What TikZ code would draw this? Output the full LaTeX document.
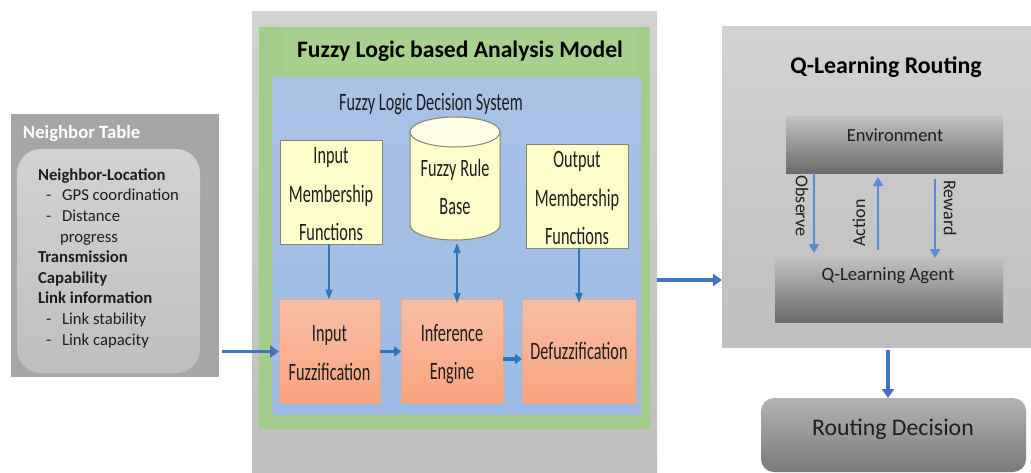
\documentclass[tikz,border=0pt]{standalone}
\usepackage{fontspec}
\setmainfont{Carlito}
\newfontfamily\condfont[FakeStretch=0.65]{Carlito}
\usetikzlibrary{arrows.meta}
\definecolor{arrowA}{HTML}{2E75B6}
\definecolor{arrowB}{HTML}{4472C4}
\definecolor{arrowC}{HTML}{5B8BD6}
\definecolor{inkdark}{HTML}{1E1E1E}
\definecolor{tablegray}{HTML}{A6A6A6}
\definecolor{midtop}{HTML}{D2D2D2}
\definecolor{midbot}{HTML}{BFBFBF}
\definecolor{greenpanel}{HTML}{A3CD8B}
\definecolor{greentitle}{HTML}{A9D18E}
\definecolor{bluetop}{HTML}{A9C3E6}
\definecolor{bluebot}{HTML}{9CBBE4}
\definecolor{yellowfill}{HTML}{FFFFCC}
\definecolor{yellowtop}{HTML}{FFFFE6}
\definecolor{orangetop}{HTML}{F7BFA6}
\definecolor{orangebot}{HTML}{F9A47E}
\definecolor{edgeolive}{HTML}{85856A}
\definecolor{edgeorange}{HTML}{EDA98A}
\newcommand{\fs}[1]{\fontsize{#1}{#1}\selectfont}
\tikzset{
  panel/.style={inner sep=0pt,outer sep=0pt,rectangle},
  yellowbox/.style={panel,fill=yellowfill,draw=edgeolive,line width=.8pt,text=inkdark,align=center,
    font={\condfont\fontsize{25}{38.5}\selectfont},minimum width=102pt,minimum height=104pt},
  orangebox/.style={panel,top color=orangetop,bottom color=orangebot,draw=edgeorange,line width=.6pt,
    text=inkdark,align=center,font={\condfont\fontsize{25}{38.5}\selectfont},minimum height=104pt},
  bigarrow/.style={-{Triangle[length=9pt,width=12pt]},line width=3.2pt,draw=arrowB},
  midarrow/.style={-{Triangle[length=7pt,width=10pt]},line width=3.4pt,draw=arrowA},
  thinarrow/.style={-{Triangle[length=10pt,width=7pt]},line width=1.8pt,draw=arrowA},
  bothtips/.style={{Triangle[length=10pt,width=7pt]}-{Triangle[length=10pt,width=7pt]},line width=1.8pt,draw=arrowA},
  looparrow/.style={-{Triangle[length=9pt,width=10pt]},line width=2pt,draw=arrowC},
  graybar/.style={panel,top color=black!24,bottom color=black!58},
  vlabel/.style={panel,text=inkdark,font=\fs{18}},
}
\begin{document}
\begin{tikzpicture}[x=1pt,y=-1pt]
\useasboundingbox (0,0) rectangle (1031,472);
% Neighbor table
\node[panel,fill=tablegray,minimum width=208pt,minimum height=263pt] (nbr) at (115,245.5) {};
\node[panel,rounded corners=24pt,top color=midtop,bottom color=midbot,minimum width=183pt,minimum height=224pt] (nbrin) at (108.5,261) {};
\node[panel,anchor=west,text=white,font=\fs{18.7}\bfseries] (nbrt) at (23,133.5) {Neighbor Table};
\node[panel,anchor=north west,align=left,text=inkdark,font={\fontsize{16.7}{20.6}\selectfont}] (nbrl) at (38,168.5) {%
\textbf{Neighbor-Location}\\
\hspace*{8pt}-\hspace{11pt}GPS coordination\\
\hspace*{8pt}-\hspace{11pt}Distance\\
\hspace*{22pt}progress\\
\textbf{Transmission}\\
\textbf{Capability}\\
\textbf{Link information}\\
\hspace*{8pt}-\hspace{11pt}Link stability\\
\hspace*{8pt}-\hspace{11pt}Link capacity};
% Centre
\node[panel,top color=midtop,bottom color=midbot,minimum width=405pt,minimum height=461pt] (mid) at (454.5,241.5) {};
\node[panel,fill=greenpanel,minimum width=391pt,minimum height=402pt] (grn) at (454.5,228) {};
\node[panel,fill=greentitle,minimum width=354pt,minimum height=40pt,text=black,font=\fs{23.6}\bfseries] (ttl) at (460,51) {\raisebox{-2.5pt}{Fuzzy Logic based Analysis Model}};
\node[panel,top color=bluetop,bottom color=bluebot,minimum width=369pt,minimum height=337pt] (blu) at (456.5,245.5) {};
\node[panel,text=inkdark,font={\condfont\fontsize{25}{25}\selectfont}] (fds) at (431,104) {Fuzzy Logic Decision System};
\node[yellowbox] (imf) at (331,192) {\rule{0pt}{21pt}Input\\Membership\\Functions};
\node[yellowbox] (omf) at (577,196) {\rule{0pt}{21pt}Output\\Membership\\Functions};
% Cylinder
\node[panel,minimum width=90pt,minimum height=123pt] (frb) at (455,178.5) {};
\draw[fill=yellowfill,draw=edgeolive,line width=1pt] (410,132) -- (410,225) arc[start angle=180,end angle=360,x radius=45pt,y radius=15pt] -- (500,132) -- cycle;
\draw[fill=yellowtop,draw=edgeolive,line width=1pt] (455,132) ellipse[x radius=45pt,y radius=15pt];
\node[panel,align=center,text=inkdark,font={\condfont\fontsize{25}{38.5}\selectfont}] (frbt) at (455,187) {Fuzzy Rule\\Base};
\node[orangebox,minimum width=101pt] (fuz) at (329.5,351.5) {\rule{0pt}{19pt}Input\\Fuzzification};
\node[orangebox,minimum width=102pt] (inf) at (452,351) {\rule{0pt}{23pt}Inference\\Engine};
\node[orangebox,minimum width=114pt] (def) at (579,351) {Defuzzification};
% Right panel
\node[panel,top color=midtop,bottom color=midbot,minimum width=309pt,minimum height=321pt] (qlr) at (876.5,186.5) {};
\node[panel,text=black,font=\fs{23.9}\bfseries] (qlt) at (886,67.5) {Q-Learning Routing};
\node[graybar,minimum width=217pt,minimum height=57pt] (env) at (894.5,144.5) {};
\node[panel,text=inkdark,font=\fs{18.5}] (envt) at (895,135) {Environment};
\node[graybar,minimum width=228pt,minimum height=65pt] (agt) at (889,289.5) {};
\node[panel,text=inkdark,font=\fs{18.7}] (agtt) at (888,276) {Q-Learning Agent};
\node[panel,rounded corners=13pt,top color=black!30,bottom color=black!52,minimum width=265pt,minimum height=74pt] (rte) at (893.5,435) {};
\node[panel,text=inkdark,font=\fs{23.8}] (rtet) at (893,429) {Routing Decision};
% Rotated labels
\node[vlabel,rotate=-90] (obs) at (802,206) {Observe};
\node[vlabel,rotate=90] (act) at (859,223) {Action};
\node[vlabel,rotate=-90] (rwd) at (950,208) {Reward};
% Connectors
\draw[bigarrow] (nbr.east |- fuz.west) ++(3,0) -- (fuz.west);
\draw[thinarrow] ([xshift=-2pt]imf.south) -- ([xshift=-2pt]imf.south |- fuz.north);
\draw[bothtips] ([xshift=2pt,yshift=-3pt]frb.south) -- ([xshift=2pt,yshift=-4pt]frb.south |- inf.north);
\draw[thinarrow] (def.north |- omf.south) -- ([yshift=-4pt]def.north);
\draw[midarrow] (fuz.east) -- (fuz.east -| inf.west);
\draw[midarrow] ([yshift=-8pt]inf.east) -- ([yshift=-8pt]inf.east -| def.west);
\draw[bigarrow] ([yshift=-38.5pt]mid.east) -- ([yshift=-38.5pt]mid.east -| qlr.west);
\draw[bigarrow] (rte.north |- qlr.south) ++(-5.5,3) -- ([xshift=-5.5pt]rte.north);
\draw[looparrow] ([xshift=-80.5pt]env.south) -- ([xshift=-80.5pt,yshift=4pt]env.south |- agt.north);
\draw[looparrow] ([xshift=-11pt,yshift=7pt]agt.north) -- ([xshift=-16.5pt,yshift=-4pt]env.south);
\draw[looparrow] ([xshift=40.5pt,yshift=-6pt]env.south) -- ([xshift=40.5pt,yshift=-1pt]env.south |- agt.north);
\end{tikzpicture}
\end{document}
